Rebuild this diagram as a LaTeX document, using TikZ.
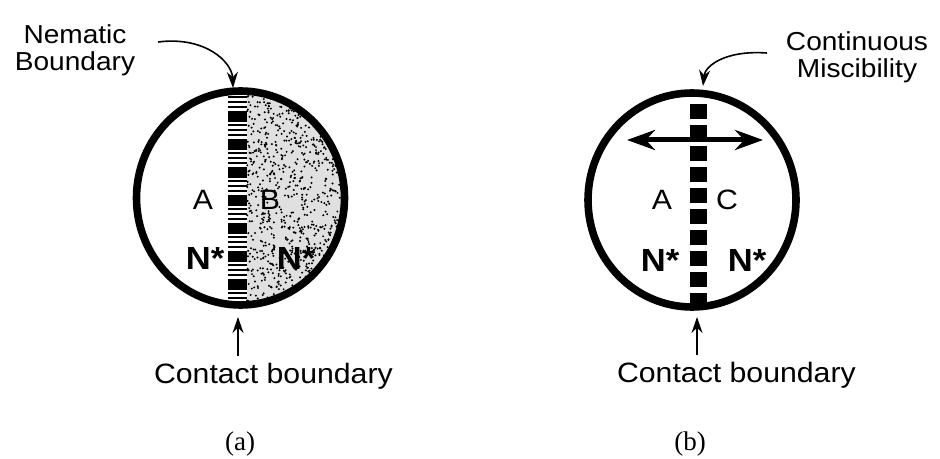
\documentclass[tikz,border=0pt]{standalone}
\usepackage{fontspec}
\setmainfont{Liberation Serif}
\setsansfont{Liberation Sans}[FakeStretch=1.08]
\usetikzlibrary{arrows.meta}
\tikzset{
  ring/.style={line width=3.8pt},
  lbl/.style={font=\sffamily\fontsize{14}{14}\selectfont},
  nstar/.style={font=\sffamily\bfseries\fontsize{16}{16}\selectfont},
  callout/.style={font=\sffamily\fontsize{13}{13.5}\selectfont,align=center},
  foot/.style={font=\sffamily\fontsize{14}{14}\selectfont,anchor=base west},
  pointer/.style={line width=0.8pt,-{Stealth[length=8pt,width=5.5pt]}},
  both/.style={line width=2.5pt,{Stealth[length=14pt,width=10pt]}-{Stealth[length=14pt,width=10pt]}},
}
\begin{document}
\begin{tikzpicture}[x=0.5pt,y=-0.5pt]
  \useasboundingbox (0,0) rectangle (940,459);
  \coordinate (circA) at (240.5,198);
  \coordinate (circB) at (692,200);
  % (a)
  \begin{scope}
    \clip (circA) ellipse [x radius=52pt, y radius=53.5pt];
    \fill[black!12] (247,80) rectangle (350,320);
    \pgfmathsetseed{11}
    \foreach \i in {1,...,1000}
      \fill ({247+rnd*105},{198+rand*108}) circle (0.55pt);
    \foreach \k in {0,...,7} {
      \fill (228,{96+28*\k}) rectangle (247,{98+28*\k});
      \fill (228,{101+28*\k}) rectangle (247,{103+28*\k});
      \fill (228,{106+28*\k}) rectangle (247,{108+28*\k});
      \fill (228,{111+28*\k}) rectangle (247,{122+28*\k});
    }
  \end{scope}
  \draw[ring] (circA) ellipse [x radius=52pt, y radius=53.5pt];
  % (b)
  \begin{scope}
    \clip (circB) ellipse [x radius=52pt, y radius=53.5pt];
    \foreach \k in {0,...,9}
      \fill (689.5,{104+21*\k}) rectangle (706.5,{119+21*\k});
  \end{scope}
  \draw[ring] (circB) ellipse [x radius=52pt, y radius=53.5pt];
  \coordinate (hl) at (627,140);
  \coordinate (hr) at (763,140);
  \draw[both] (hl) -- (hr);

  \node[lbl] (la) at (203,200) {A};
  \node[lbl] (lb) at (270,200) {B};
  \node[nstar] (na) at (205,258) {N*};
  \node[nstar] (nb) at (296,258) {N*};
  \node[lbl] (ra) at (662,200) {A};
  \node[lbl] (rc) at (727,200) {C};
  \node[nstar] (nc) at (660,260) {N*};
  \node[nstar] (nd) at (747,260) {N*};

  \node[callout] (nem) at (75,50) {Nematic\\Boundary};
  \node[callout] (cont) at (857,57) {Continuous\\Miscibility};
  \coordinate (atop) at (233,88);
  \coordinate (btop) at (703,86);
  \draw[pointer] ([xshift=8pt,yshift=4pt]nem.east) .. controls (205,36) and (232,62) .. (atop);
  \draw[pointer] ([xshift=-6pt,yshift=2pt]cont.west) .. controls (725,50) and (705,66) .. (btop);

  \node[foot] (cba) at (147,383) {Contact boundary};
  \node[foot] (cbb) at (610,382) {Contact boundary};
  \coordinate (abot) at (238,317);
  \coordinate (bbot) at (697,317);
  \draw[pointer] (cba.north -| abot) -- (abot);
  \draw[pointer] (cbb.north -| bbot) -- (bbot);

  \node[font=\fontsize{13.5}{13.5}\selectfont,anchor=base] (capa) at (240,450) {(a)};
  \node[font=\fontsize{13.5}{13.5}\selectfont,anchor=base] (capb) at (690,450) {(b)};
\end{tikzpicture}
\end{document}
